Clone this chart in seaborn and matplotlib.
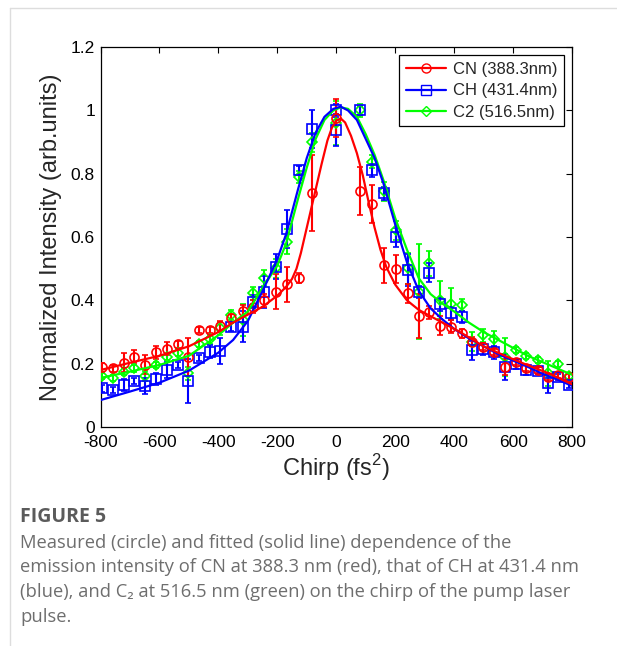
import numpy as np
import pandas as pd
import seaborn as sns
import matplotlib.pyplot as plt
from matplotlib.lines import Line2D

# measured points: chirp (fs^2), normalized intensity, error
cn_x = [-794, -757, -721, -686, -648, -611, -574, -538, -502, -466, -429, -393, -356, -317,
        -282, -245, -205, -167, -127, -82, 0, 80, 121, 162, 204, 242, 280, 315, 351, 389,
        427, 461, 498, 536, 572, 609, 645, 683, 719, 753, 790]
cn_y = [0.188, 0.185, 0.203, 0.222, 0.196, 0.236, 0.248, 0.261, 0.22, 0.306, 0.306, 0.319, 0.343, 0.366,
        0.38, 0.40, 0.427, 0.451, 0.471, 0.74, 0.975, 0.746, 0.706, 0.511, 0.499, 0.422, 0.35, 0.362, 0.32, 0.317,
        0.296, 0.27, 0.254, 0.238, 0.19, 0.206, 0.187, 0.18, 0.159, 0.164, 0.159]
cn_err = [0.015, 0.01, 0.03, 0.02, 0.03, 0.02, 0.02, 0.01, 0.06, 0.01, 0.01, 0.015, 0.015, 0.02,
          0.02, 0.02, 0.055, 0.055, 0.015, 0.12, 0.06, 0.075, 0.06, 0.055, 0.045, 0.03, 0.07, 0.02, 0.03, 0.02,
          0.015, 0.015, 0.01, 0.01, 0.025, 0.01, 0.01, 0.01, 0.01, 0.01, 0.01]

ch_x = [-794, -757, -721, -686, -648, -611, -574, -538, -502, -466, -429, -393, -356, -317,
        -282, -245, -205, -167, -127, -82, 0, 0, 80, 121, 162, 204, 242, 280, 315, 351, 389,
        427, 461, 498, 536, 572, 609, 645, 683, 719, 753, 790]
ch_y = [0.122, 0.117, 0.133, 0.146, 0.129, 0.152, 0.18, 0.196, 0.146, 0.217, 0.238, 0.24, 0.317, 0.317,
        0.396, 0.427, 0.506, 0.624, 0.811, 0.943, 1.0, 0.938, 1.0, 0.811, 0.738, 0.60, 0.496, 0.427, 0.488, 0.388, 0.359,
        0.348, 0.243, 0.246, 0.236, 0.19, 0.198, 0.18, 0.178, 0.138, 0.157, 0.133]
ch_err = [0.01, 0.01, 0.02, 0.01, 0.025, 0.02, 0.025, 0.01, 0.07, 0.01, 0.02, 0.04, 0.015, 0.05,
          0.02, 0.05, 0.04, 0.06, 0.015, 0.06, 0.02, 0.05, 0.015, 0.02, 0.02, 0.03, 0.05, 0.02, 0.03, 0.02, 0.02,
          0.02, 0.03, 0.02, 0.02, 0.04, 0.015, 0.015, 0.01, 0.03, 0.01, 0.01]

c2_x = [-794, -757, -721, -686, -648, -611, -574, -538, -502, -466, -429, -393, -356, -317,
        -282, -245, -205, -167, -127, -82, 0, 80, 121, 162, 204, 242, 280, 315, 351, 389,
        427, 461, 498, 536, 572, 609, 645, 683, 719, 753, 790]
c2_y = [0.162, 0.154, 0.175, 0.185, 0.161, 0.196, 0.222, 0.233, 0.17, 0.262, 0.277, 0.312, 0.354, 0.338,
        0.422, 0.47, 0.501, 0.585, 0.79, 0.90, 0.96, 1.0, 0.838, 0.745, 0.622, 0.501, 0.427, 0.517, 0.401, 0.39,
        0.385, 0.27, 0.29, 0.277, 0.22, 0.243, 0.224, 0.212, 0.17, 0.198, 0.161]
c2_err = [0.01, 0.01, 0.01, 0.01, 0.015, 0.01, 0.01, 0.01, 0.02, 0.01, 0.015, 0.02, 0.015, 0.05,
          0.02, 0.025, 0.03, 0.04, 0.02, 0.03, 0.07, 0.02, 0.02, 0.03, 0.03, 0.05, 0.15, 0.04, 0.06, 0.05,
          0.02, 0.03, 0.02, 0.025, 0.06, 0.01, 0.01, 0.01, 0.04, 0.01, 0.01]

# fitted curves
cn_fit_x = [-800, -700, -600, -500, -400, -350, -300, -250, -200, -170, -150, -135, -120, -105, -90,
            -70, -50, -30, -15, 0, 15, 30, 50, 70, 90, 110, 130, 150, 170, 200, 240, 280, 350, 420, 500,
            580, 650, 720, 800]
cn_fit_y = [0.18, 0.203, 0.225, 0.255, 0.30, 0.33, 0.355, 0.38, 0.415, 0.443, 0.468, 0.50, 0.55, 0.61, 0.67,
            0.75, 0.83, 0.905, 0.945, 0.968, 0.975, 0.962, 0.92, 0.865, 0.795, 0.71, 0.63, 0.56, 0.505, 0.45, 0.40,
            0.37, 0.335, 0.30, 0.255, 0.222, 0.195, 0.17, 0.135]

ch_fit_x = [-800, -700, -600, -500, -400, -350, -300, -250, -200, -170, -130, -100, -70, -40, -10, 15,
            40, 70, 100, 130, 160, 200, 240, 280, 320, 360, 400, 450, 500, 550, 600, 650, 700, 750, 800]
ch_fit_y = [0.085, 0.112, 0.14, 0.178, 0.235, 0.275, 0.335, 0.43, 0.53, 0.61, 0.75, 0.85, 0.93, 0.98, 1.005,
            1.012, 1.0, 0.97, 0.91, 0.85, 0.77, 0.64, 0.52, 0.43, 0.375, 0.34, 0.31, 0.28, 0.255, 0.23, 0.21,
            0.19, 0.168, 0.15, 0.13]

c2_fit_x = [-800, -700, -600, -500, -400, -350, -300, -250, -200, -170, -130, -100, -70, -40, -10, 15,
            40, 70, 100, 130, 160, 200, 240, 280, 320, 360, 400, 450, 500, 550, 600, 650, 700, 750, 800]
c2_fit_y = [0.155, 0.175, 0.196, 0.225, 0.29, 0.33, 0.365, 0.44, 0.51, 0.58, 0.72, 0.82, 0.91, 0.97, 1.0,
            1.01, 1.005, 0.98, 0.925, 0.86, 0.78, 0.66, 0.56, 0.47, 0.42, 0.39, 0.365, 0.33, 0.30, 0.275, 0.25,
            0.225, 0.205, 0.185, 0.165]

labels = ['CN (388.3nm)', 'CH (431.4nm)', 'C2 (516.5nm)']
colors = ['#ff0000', '#0000ff', '#00ff00']
markers = ['o', 's', 'D']

sns.set_style('white')
plt.rcParams['font.family'] = ['Liberation Sans', 'DejaVu Sans']
plt.rcParams['mathtext.fontset'] = 'custom'
plt.rcParams['mathtext.rm'] = 'Liberation Sans'
plt.rcParams['axes.unicode_minus'] = False

fig = plt.figure(figsize=(6.17, 6.46), dpi=100)
ax = fig.add_axes([0.1629, 0.339, 0.7642, 0.588])

fits = pd.concat([
    pd.DataFrame({'chirp': cn_fit_x, 'intensity': cn_fit_y, 'species': labels[0]}),
    pd.DataFrame({'chirp': ch_fit_x, 'intensity': ch_fit_y, 'species': labels[1]}),
    pd.DataFrame({'chirp': c2_fit_x, 'intensity': c2_fit_y, 'species': labels[2]}),
])

points = [(cn_x, cn_y, cn_err), (ch_x, ch_y, ch_err), (c2_x, c2_y, c2_err)]
# draw green first so blue and red sit on top like the original
for i in [2, 1, 0]:
    x, y, e = points[i]
    ax.errorbar(x, y, yerr=e, fmt=markers[i], color=colors[i], mfc='none',
                mec=colors[i], ms=6.5 if i < 2 else 5.5, mew=1.2, elinewidth=1.5,
                capsize=2, capthick=1.5, zorder=3)

sns.lineplot(data=fits, x='chirp', y='intensity', hue='species',
             hue_order=[labels[2], labels[1], labels[0]],
             palette={labels[0]: colors[0], labels[1]: colors[1], labels[2]: colors[2]},
             estimator=None, sort=True, lw=1.6, legend=False, ax=ax, zorder=4)

ax.set_xlim(-800, 800)
ax.set_ylim(0, 1.2)
ax.set_xticks(np.arange(-800, 801, 200))
ax.set_yticks([0, 0.2, 0.4, 0.6, 0.8, 1.0, 1.2])
ax.set_yticklabels(['0', '0.2', '0.4', '0.6', '0.8', '1', '1.2'])
ax.tick_params(direction='in', top=True, right=True, length=4, width=0.8,
               labelsize=12.5, colors='black')
ax.tick_params(axis='x', pad=6)
ax.tick_params(axis='y', pad=4)
for s in ax.spines.values():
    s.set_color('black')
    s.set_linewidth(0.9)

ax.set_xlabel('Chirp (fs$^\\mathrm{2}$)', fontsize=17, labelpad=1)
ax.set_ylabel('Normalized Intensity (arb.units)', fontsize=17, labelpad=6)

handles = [Line2D([], [], color=colors[i], marker=markers[i], mfc='none', mec=colors[i],
                  ms=6.5 if i < 2 else 5.5, lw=1.6) for i in range(3)]
leg = ax.legend(handles, labels, loc='upper right', fontsize=12, frameon=True,
                fancybox=False, edgecolor='black', framealpha=1, handlelength=2.4,
                labelspacing=0.38, borderpad=0.4, handletextpad=0.4, borderaxespad=0.5)
leg.get_frame().set_linewidth(0.9)

# caption
cap_font = ['Open Sans', 'DejaVu Sans']
fig.text(20 / 617, 1 - 517 / 646, 'FIGURE 5', fontsize=14, fontweight='bold',
         color='#5b5b5b', family=cap_font, va='center')
caption = [
    'Measured (circle) and fitted (solid line) dependence of the',
    'emission intensity of CN at 388.3 nm (red), that of CH at 431.4 nm',
    '(blue), and C\u2082 at 516.5 nm (green) on the chirp of the pump laser',
    'pulse.',
]
for k, line in enumerate(caption):
    fig.text(20 / 617, 1 - (543 + 24.5 * k) / 646, line, fontsize=13.2,
             color='#6e6e6e', family=cap_font, va='center')

# card border
fig.add_artist(Line2D([10 / 617, 10 / 617], [0, 1 - 8 / 646], color='#dddddd', lw=1))
fig.add_artist(Line2D([10 / 617, 1], [1 - 8 / 646, 1 - 8 / 646], color='#dddddd', lw=1))

fig.savefig('out.png', dpi=100)
